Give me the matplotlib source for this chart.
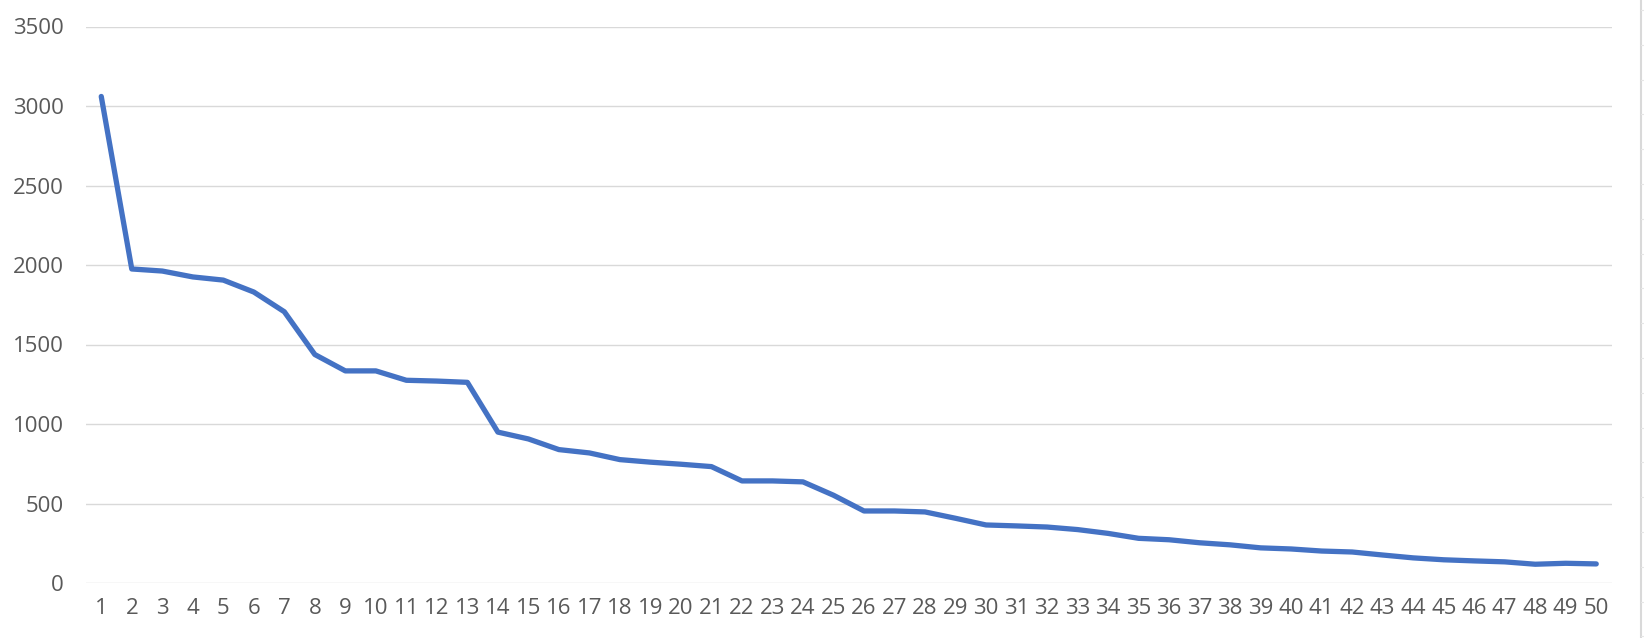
import matplotlib
matplotlib.use("Agg")
import matplotlib.pyplot as plt
from matplotlib.lines import Line2D

# valores
posiciones = list(range(1, 51))
valores = [3060, 1975, 1962, 1925, 1905, 1830, 1706, 1437, 1334, 1334,
           1275, 1270, 1262, 949, 906, 839, 818, 776, 760, 747,
           732, 642, 642, 636, 552, 453, 453, 447, 407, 365,
           359, 352, 336, 312, 281, 272, 253, 240, 221, 214,
           201, 195, 176, 158, 146, 139, 133, 118, 124, 120]
ticks_y = [0, 500, 1000, 1500, 2000, 2500, 3000, 3500]

color_linea = "#4472C4"
color_texto = "#595959"
color_grilla = "#D9D9D9"

plt.rcParams['font.family'] = ['Open Sans', 'DejaVu Sans']

fig = plt.figure(figsize=(16.44, 6.38), dpi=100)
ax = fig.add_axes([86 / 1644, 1 - 583 / 638, (1611.5 - 86) / 1644, (583 - 26.5) / 638])

ax.plot(posiciones, valores, color=color_linea, linewidth=3.8,
        solid_capstyle="round", solid_joinstyle="round", zorder=3)

ax.set_xlim(0.5, 50.5)
ax.set_ylim(0, 3500)
ax.set_xticks(posiciones)
ax.set_xticklabels([str(p) for p in posiciones])
ax.set_yticks(ticks_y)
ax.set_yticklabels([str(v) for v in ticks_y])

ax.grid(axis="y", color=color_grilla, linewidth=1.0)
ax.set_axisbelow(True)
for lado in ["top", "right", "left", "bottom"]:
    ax.spines[lado].set_visible(False)
ax.tick_params(axis="both", length=0, labelsize=16, colors=color_texto)
ax.tick_params(axis="x", pad=11)
ax.tick_params(axis="y", pad=16)

# borde de la hoja de calculo a la derecha
fig.add_artist(Line2D([1641 / 1644, 1641 / 1644], [0, 1], color="#D9D9D9", linewidth=1.5))
y = 638 - 10
while y > 0:
    fig.add_artist(Line2D([1641 / 1644, 1], [y / 638, y / 638], color="#E6E6E6", linewidth=0.8))
    y -= 34.8

fig.savefig("out.png", dpi=100)
